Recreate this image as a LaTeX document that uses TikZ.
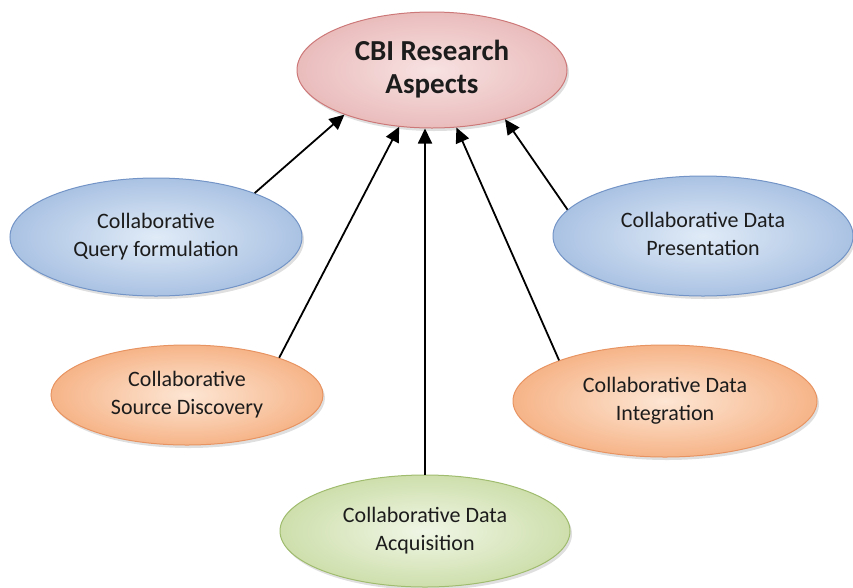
\documentclass[tikz,border=0pt]{standalone}
\usepackage{fontspec}
\setmainfont{Carlito}
\usetikzlibrary{shapes.geometric, arrows.meta, shadows}

\definecolor{pinkfill}{RGB}{248,226,226}
\definecolor{pinkedge}{RGB}{205,120,120}
\definecolor{pinkdark}{RGB}{234,188,188}
\definecolor{bluefill}{RGB}{224,235,247}
\definecolor{bluedark}{RGB}{170,194,227}
\definecolor{blueedge}{RGB}{115,148,198}
\definecolor{orangefill}{RGB}{253,230,212}
\definecolor{orangedark}{RGB}{246,180,136}
\definecolor{orangeedge}{RGB}{232,148,98}
\definecolor{greenfill}{RGB}{240,246,230}
\definecolor{greendark}{RGB}{206,223,172}
\definecolor{greenedge}{RGB}{160,188,110}
\definecolor{textgray}{RGB}{28,28,28}

\begin{document}
\begin{tikzpicture}[x=1pt, y=-1pt,
        aspect/.style={ellipse, draw, line width=1pt, inner sep=0pt,
            text=textgray, font=\fontsize{22}{28}\selectfont,
            drop shadow={shadow xshift=2pt, shadow yshift=-3pt, opacity=0.25}},
        rootaspect/.style={aspect, draw=pinkedge, inner color=pinkfill, outer color=pinkdark,
            font=\fontsize{29}{33}\selectfont\bfseries},
        blueaspect/.style={aspect, draw=blueedge, inner color=bluefill, outer color=bluedark},
        orangeaspect/.style={aspect, draw=orangeedge, inner color=orangefill, outer color=orangedark},
        greenaspect/.style={aspect, draw=greenedge, inner color=greenfill, outer color=greendark},
        arrow/.style={-{Triangle[length=15pt, width=14pt]}, line width=1.8pt}]
        \useasboundingbox (0,0) rectangle (853,587);

        % Central node
        \node[rootaspect, minimum width=270pt, minimum height=116pt] (cbi) at (432,70) {
            \begin{tabular}{c}
                CBI Research \\
                Aspects
            \end{tabular}
        };

        % Aspect nodes
        \node[blueaspect, minimum width=292pt, minimum height=118pt] (query) at (156,237) {
            \begin{tabular}{c}
                Collaborative \\
                Query formulation
            \end{tabular}
        };
        \node[blueaspect, minimum width=300pt, minimum height=120pt] (present) at (703,236) {
            \begin{tabular}{c}
                Collaborative Data \\
                Presentation
            \end{tabular}
        };
        \node[orangeaspect, minimum width=272pt, minimum height=100pt] (source) at (187,395) {
            \begin{tabular}{c}
                Collaborative \\
                Source Discovery
            \end{tabular}
        };
        \node[orangeaspect, minimum width=304pt, minimum height=112pt] (integ) at (665,401) {
            \begin{tabular}{c}
                Collaborative Data \\
                Integration
            \end{tabular}
        };
        \node[greenaspect, minimum width=290pt, minimum height=112pt] (acq) at (425,531) {
            \begin{tabular}{c}
                Collaborative Data \\
                Acquisition
            \end{tabular}
        };

        % Arrows
        \draw[arrow] (query.24) -- (cbi.207);
        \draw[arrow] (source.22) -- (cbi.240);
        \draw[arrow] (acq.north) -- (acq.north |- cbi.south);
        \draw[arrow] (integ.159) -- (cbi.293);
        \draw[arrow] (present.169) -- (cbi.326);
    \end{tikzpicture}
\end{document}
